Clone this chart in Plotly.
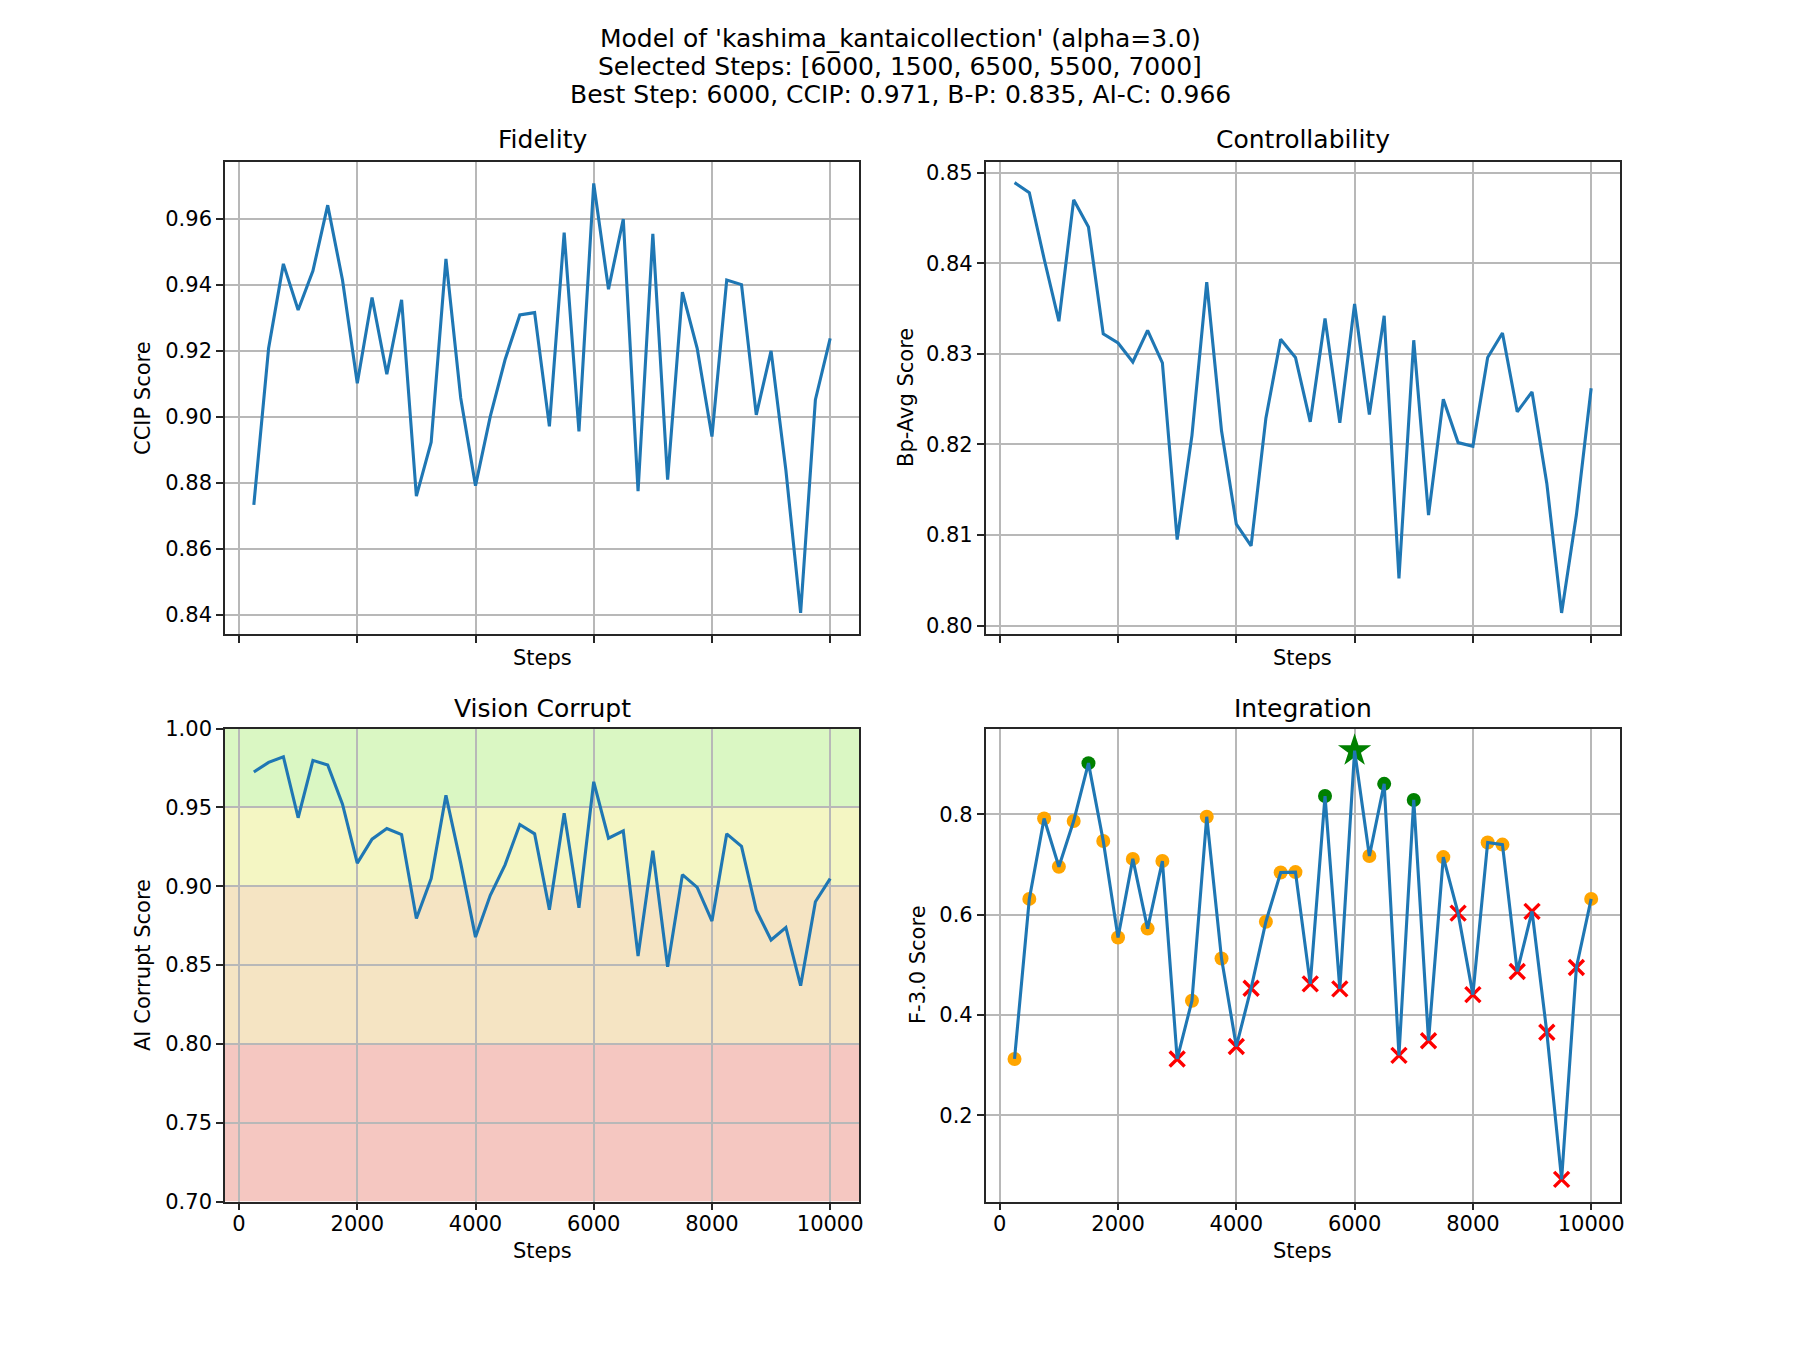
import plotly.graph_objects as go

steps = [250 * i for i in range(1, 41)]

ccip = [0.8733, 0.9208, 0.9464, 0.9324, 0.9443, 0.9642, 0.9415, 0.9102, 0.9362, 0.9129,
        0.9355, 0.8759, 0.8923, 0.9479, 0.9057, 0.8791, 0.9001, 0.9173, 0.9309, 0.9316,
        0.8971, 0.9559, 0.8956, 0.9708, 0.9387, 0.9600, 0.8774, 0.9555, 0.8809, 0.9378,
        0.9208, 0.8940, 0.9415, 0.9401, 0.9006, 0.9200, 0.8839, 0.8405, 0.9052, 0.9238]

bp_avg = [0.8489, 0.8478, 0.8405, 0.8336, 0.8470, 0.8440, 0.8322, 0.8312, 0.8291, 0.8326,
          0.8290, 0.8095, 0.8210, 0.8379, 0.8215, 0.8112, 0.8088, 0.8229, 0.8316, 0.8296,
          0.8225, 0.8339, 0.8224, 0.8355, 0.8233, 0.8342, 0.8052, 0.8315, 0.8122, 0.8250,
          0.8202, 0.8198, 0.8296, 0.8323, 0.8236, 0.8258, 0.8157, 0.8014, 0.8122, 0.8262]

ai_corrupt = [0.9724, 0.9785, 0.9821, 0.9434, 0.9798, 0.9769, 0.9520, 0.9146, 0.9298, 0.9366,
              0.9327, 0.8795, 0.9048, 0.9576, 0.9146, 0.8677, 0.8942, 0.9135, 0.9391, 0.9332,
              0.8851, 0.9463, 0.8863, 0.9662, 0.9304, 0.9350, 0.8557, 0.9225, 0.8489, 0.9073,
              0.8992, 0.8779, 0.9332, 0.9252, 0.8847, 0.8659, 0.8738, 0.8369, 0.8901, 0.9048]

f_score = [0.3125, 0.6313, 0.7915, 0.6954, 0.7865, 0.9018, 0.7466, 0.5544, 0.7110, 0.5722,
           0.7068, 0.3125, 0.4285, 0.7950, 0.5125, 0.3374, 0.4534, 0.5858, 0.6840, 0.6847,
           0.4620, 0.8363, 0.4520, 0.9267, 0.7167, 0.8605, 0.3196, 0.8285, 0.3488, 0.7146,
           0.6029, 0.4406, 0.7438, 0.7395, 0.4868, 0.6064, 0.3658, 0.0726, 0.4947, 0.6313]

# marker category per step: 'ok' orange dot, 'bad' red x, 'sel' green dot, 'best' green star
categories = ['ok', 'ok', 'ok', 'ok', 'ok', 'sel', 'ok', 'ok', 'ok', 'ok',
              'ok', 'bad', 'ok', 'ok', 'ok', 'bad', 'bad', 'ok', 'ok', 'ok',
              'bad', 'sel', 'bad', 'best', 'ok', 'sel', 'bad', 'sel', 'bad', 'ok',
              'bad', 'bad', 'ok', 'ok', 'bad', 'bad', 'bad', 'bad', 'bad', 'ok']

title_lines = ["Model of 'kashima_kantaicollection' (alpha=3.0)",
               "Selected Steps: [6000, 1500, 6500, 5500, 7000]",
               "Best Step: 6000, CCIP: 0.971, B-P: 0.835, AI-C: 0.966"]
panel_titles = ["Fidelity", "Controllability", "Vision Corrupt", "Integration"]
y_labels = ["CCIP Score", "Bp-Avg Score", "AI Corrupt Score", "F-3.0 Score"]
x_label = "Steps"

bands = [(0.95, 1.00, "#daf7c3"), (0.90, 0.95, "#f4f6c3"), (0.80, 0.90, "#f5e4c3"), (0.70, 0.80, "#f5c7c1")]

FONT = "DejaVu Sans"
BLUE = "#1f77b4"
W, H = 1800, 1350
OFF = 8  # page body margin compensation (px)


def px(v):
    return (v - OFF) / W


def py(v):
    return 1 - (v - OFF) / H


xdom_l = [px(225), px(859)]
xdom_r = [px(985.7), px(1620)]
ydom_t = [py(634.3), py(161.7)]
ydom_b = [py(1201.5), py(728.5)]

fig = go.Figure()

axes_cfg = [
    ("x", "y", xdom_l, ydom_t, ccip, [0.834, 0.9774], [0.84, 0.86, 0.88, 0.90, 0.92, 0.94, 0.96], ".2f", False),
    ("x2", "y2", xdom_r, ydom_t, bp_avg, [0.79904, 0.85121], [0.80, 0.81, 0.82, 0.83, 0.84, 0.85], ".2f", False),
    ("x3", "y3", xdom_l, ydom_b, ai_corrupt, [0.70, 1.00], [0.70, 0.75, 0.80, 0.85, 0.90, 0.95, 1.00], ".2f", True),
    ("x4", "y4", xdom_r, ydom_b, f_score, [0.0285, 0.9708], [0.2, 0.4, 0.6, 0.8], ".1f", True),
]

# Integration markers (drawn beneath the line)
marker_styles = {
    'ok': dict(symbol="circle", size=14, color="orange"),
    'bad': dict(symbol="x-thin", size=15, color="red", line=dict(width=3.4, color="red")),
    'sel': dict(symbol="circle", size=14, color="green"),
    'best': dict(symbol="star", size=25, color="green"),
}
for cat, style in marker_styles.items():
    xs = [s for s, c in zip(steps, categories) if c == cat]
    ys = [v for v, c in zip(f_score, categories) if c == cat]
    fig.add_trace(go.Scatter(x=xs, y=ys, mode="markers", marker=style, xaxis="x4", yaxis="y4",
                             showlegend=False, hoverinfo="skip"))

for i, (xa, ya, xd, yd, data, yr, yt, fmt, show_xlabels) in enumerate(axes_cfg):
    fig.add_trace(go.Scatter(x=steps, y=data, mode="lines", line=dict(color=BLUE, width=3.1),
                             xaxis=xa, yaxis=ya, showlegend=False))
    common = dict(showline=True, linecolor="#262626", linewidth=1.6, mirror=True,
                  ticks="outside", ticklen=7, tickwidth=1.6, tickcolor="#262626",
                  showgrid=True, gridcolor="#b8b8b8", gridwidth=1.6, zeroline=False,
                  automargin=False,
                  tickfont=dict(family=FONT, size=21, color="black"))
    xkey = "xaxis" + xa[1:]
    ykey = "yaxis" + ya[1:]
    fig.update_layout({
        xkey: dict(domain=xd, anchor=ya, range=[-237.5, 10487.5], tickformat="d", ticklabelstandoff=-5,
                   tickvals=[0, 2000, 4000, 6000, 8000, 10000], showticklabels=show_xlabels, **common),
        ykey: dict(domain=yd, anchor=xa, range=yr, tickvals=yt, tickformat=fmt, **common),
    })

for y0, y1, col in bands:
    fig.add_shape(type="rect", xref="x3 domain", yref="y3", x0=0, x1=1, y0=y0, y1=y1,
                  fillcolor=col, line=dict(width=0), layer="below")

annotations = []
for i, line in enumerate(title_lines):
    annotations.append(dict(text=line, x=px(900), y=py([38, 66, 94][i]), xref="paper", yref="paper",
                            showarrow=False, xanchor="center", yanchor="middle",
                            font=dict(family=FONT, size=25, color="black")))

cl = (xdom_l[0] + xdom_l[1]) / 2
cr = (xdom_r[0] + xdom_r[1]) / 2
title_pos = [(cl, py(140)), (cr, py(140)), (cl, py(708)), (cr, py(708))]
for t, (x, y) in zip(panel_titles, title_pos):
    annotations.append(dict(text=t, x=x, y=y, xref="paper", yref="paper", showarrow=False,
                            xanchor="center", yanchor="middle", font=dict(family=FONT, size=25, color="black")))

xl_pos = [(cl, py(658)), (cr, py(658)), (cl, py(1251)), (cr, py(1251))]
for x, y in xl_pos:
    annotations.append(dict(text=x_label, x=x, y=y, xref="paper", yref="paper", showarrow=False,
                            xanchor="center", yanchor="middle", font=dict(family=FONT, size=21, color="black")))

yc_t = py(398)
yc_b = py(965)
yl_pos = [(px(143), yc_t), (px(906), yc_t), (px(143), yc_b), (px(918), yc_b)]
for t, (x, y) in zip(y_labels, yl_pos):
    annotations.append(dict(text=t, x=x, y=y, xref="paper", yref="paper", showarrow=False, textangle=-90,
                            xanchor="center", yanchor="middle", font=dict(family=FONT, size=21, color="black")))

fig.update_layout(width=W, height=H, margin=dict(l=0, r=0, t=0, b=0, pad=0, autoexpand=False),
                  template="none",
                  paper_bgcolor="white", plot_bgcolor="rgba(0,0,0,0)",
                  annotations=annotations, showlegend=False)

fig.write_html("out.html")
